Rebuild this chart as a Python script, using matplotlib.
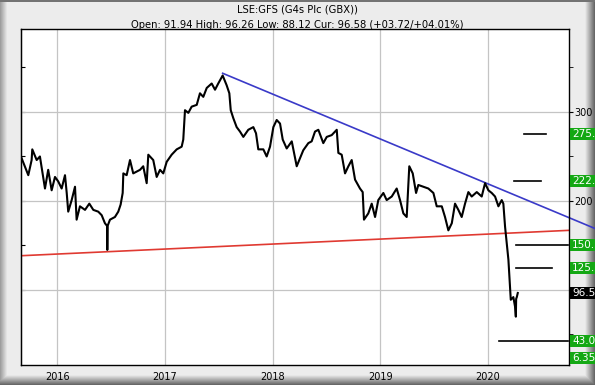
import numpy as np
import matplotlib
matplotlib.use("Agg")
import matplotlib.pyplot as plt
import matplotlib.transforms as mtransforms
from matplotlib.patches import Rectangle

# price trace (decimal year, pence)
years = [2015.667, 2015.729, 2015.760, 2015.766, 2015.807, 2015.837, 2015.862, 2015.884,
         2015.914, 2015.946, 2015.977, 2016.007, 2016.039, 2016.070, 2016.086, 2016.100,
         2016.132, 2016.163, 2016.178, 2016.209, 2016.256, 2016.296, 2016.333, 2016.379,
         2016.411, 2016.441, 2016.461, 2016.463, 2016.466, 2016.488, 2016.534, 2016.565,
         2016.587, 2016.606, 2016.612, 2016.643, 2016.674, 2016.704, 2016.736, 2016.767,
         2016.797, 2016.829, 2016.844, 2016.890, 2016.922, 2016.953, 2016.983, 2017.015,
         2017.061, 2017.108, 2017.154, 2017.169, 2017.185, 2017.216, 2017.247, 2017.294,
         2017.324, 2017.355, 2017.387, 2017.433, 2017.464, 2017.494, 2017.535, 2017.572,
         2017.597, 2017.610, 2017.634, 2017.665, 2017.696, 2017.727, 2017.773, 2017.820,
         2017.845, 2017.866, 2017.913, 2017.944, 2017.975, 2018.006, 2018.037, 2018.068,
         2018.093, 2018.130, 2018.177, 2018.223, 2018.240, 2018.284, 2018.331, 2018.362,
         2018.393, 2018.424, 2018.470, 2018.502, 2018.548, 2018.595, 2018.610, 2018.641,
         2018.672, 2018.703, 2018.734, 2018.765, 2018.811, 2018.836, 2018.848, 2018.888,
         2018.920, 2018.951, 2018.981, 2019.028, 2019.059, 2019.106, 2019.152, 2019.183,
         2019.214, 2019.245, 2019.269, 2019.301, 2019.332, 2019.353, 2019.400, 2019.446,
         2019.493, 2019.524, 2019.571, 2019.601, 2019.632, 2019.664, 2019.694, 2019.725,
         2019.756, 2019.787, 2019.818, 2019.849, 2019.896, 2019.942, 2019.973, 2020.004,
         2020.035, 2020.066, 2020.097, 2020.128, 2020.143, 2020.159, 2020.175, 2020.190,
         2020.205, 2020.212, 2020.236, 2020.252, 2020.259, 2020.262, 2020.268, 2020.277]
price = [248, 229, 246, 258, 246, 250, 231, 214,
         235, 212, 227, 222, 214, 229, 209, 188,
         201, 216, 179, 194, 190, 197, 190, 188,
         184, 175, 172, 145, 172, 179, 182, 188,
         196, 209, 231, 229, 246, 231, 233, 235,
         239, 220, 252, 246, 227, 235, 231, 244,
         252, 258, 261, 269, 302, 299, 306, 308,
         321, 317, 327, 332, 325, 332, 341, 330,
         321, 302, 293, 283, 278, 272, 280, 283,
         276, 258, 258, 250, 261, 283, 291, 287,
         269, 259, 267, 239, 244, 257, 265, 267,
         278, 280, 265, 272, 274, 280, 254, 252,
         231, 239, 246, 224, 214, 210, 179, 186,
         197, 182, 201, 209, 201, 205, 214, 201,
         186, 182, 239, 231, 209, 218, 216, 214,
         209, 194, 194, 182, 167, 175, 197, 190,
         182, 197, 210, 205, 210, 205, 220, 212,
         209, 205, 194, 201, 197, 171, 152, 134,
         104, 89, 92, 81, 70, 90, 92, 96.58]

# trend lines (start / end points)
support_x = [2015.664, 2020.753]
support_y = [138.5, 167.0]
resist_x = [2017.535, 2020.994]
resist_y = [343.5, 169.1]

# target levels and their horizontal extents
targets = [275.0, 222.5, 150.0, 125.0, 43.0]
target_x0 = [2020.335, 2020.242, 2020.260, 2020.260, 2020.102]
target_x1 = [2020.539, 2020.493, 2020.744, 2020.595, 2020.744]
# right-hand price flags (the chart crops them at the edge)
label_vals = [275.0, 222.5, 150.0, 125.0, 43.0, 6.35]
label_txt = ["275.", "222.", "150.", "125.", "43.0", "6.35"]
cur_val = 96.58
cur_txt = "96.5"

year_ticks = [2016, 2017, 2018, 2019, 2020]
ylo, yhi = 15.7, 392.9
xlo, xhi = 2015.664, 2020.753

W, H = 595, 385
fig = plt.figure(figsize=(W / 100, H / 100), dpi=100)

# bevelled grey frame
bg = fig.add_axes([0, 0, 1, 1])
img = np.full((H, W), 0.925)
xs = np.arange(W)
ys = np.arange(H)
img[:, :7] = np.minimum(img[:, :7], 0.62 + 0.045 * xs[:7])
img[:, W - 10:] = np.minimum(img[:, W - 10:], 0.9 - 0.055 * (xs[W - 10:] - (W - 10)))
img[H - 10:, :] = np.minimum(img[H - 10:, :], (0.9 - 0.055 * (ys[H - 10:] - (H - 10)))[:, None])
img[:2, :] = 0.45
bg.imshow(img, cmap="gray", vmin=0, vmax=1, aspect="auto", interpolation="nearest")
bg.axis("off")

ax = fig.add_axes([21.3 / W, 1 - 365 / H, (569 - 21.3) / W, (365 - 29.3) / H])
ax.set_facecolor("white")
ax.set_xlim(xlo, xhi)
ax.set_ylim(ylo, yhi)

ax.set_xticks(year_ticks)
ax.set_xticklabels([str(y) for y in year_ticks], fontsize=7)
ax.tick_params(axis="x", length=0, pad=5)
ax.set_yticks([100, 200, 300])
ax.set_yticklabels(["", "200", "300"])
ax.set_yticks([50, 150, 250, 350], minor=True)
ax.yaxis.tick_right()
ax.tick_params(axis="y", which="both", direction="out", length=3, labelsize=7, pad=1)
ax.grid(True, which="major", color="#c4c4c4", lw=0.9)
left = ax.secondary_yaxis("left")
left.set_yticks([100, 150, 200, 250, 300, 350])
left.tick_params(direction="in", length=3, labelleft=False)
for sp in ax.spines.values():
    sp.set_color("black")
    sp.set_linewidth(1.0)

ax.plot(years, price, color="black", lw=1.5, zorder=3)
ax.plot(support_x, support_y, color="#e03a32", lw=1.2, zorder=2)
ax.plot(resist_x, resist_y, color="#3a3ac8", lw=1.2, zorder=2, clip_on=False)
for v, a, b in zip(targets, target_x0, target_x1):
    ax.plot([a, b], [v, v], color="black", lw=1.2, zorder=2)

trans = mtransforms.blended_transform_factory(ax.transAxes, ax.transData)
box_h = 13.5
for v, t in zip(label_vals, label_txt):
    yv = max(v, ylo + 8)
    ax.add_patch(Rectangle((1.002, yv - box_h / 2), 0.06, box_h, transform=trans,
                           fc="#14a814", ec="none", clip_on=False, zorder=5))
    ax.text(1.006, yv, t, transform=trans, fontsize=7.5, color="white",
            va="center", ha="left", zorder=6)
ax.add_patch(Rectangle((1.002, cur_val - box_h / 2), 0.06, box_h, transform=trans,
                       fc="black", ec="none", clip_on=False, zorder=5))
ax.text(1.006, cur_val, cur_txt, transform=trans, fontsize=7.5, color="white",
        va="center", ha="left", zorder=6)

fig.text(0.5, 1 - 10 / H, "LSE:GFS (G4s Plc (GBX))", ha="center", va="center", fontsize=7.2)
fig.text(0.5, 1 - 24.5 / H,
         "Open: 91.94 High: 96.26 Low: 88.12 Cur: 96.58 (+03.72/+04.01%)",
         ha="center", va="center", fontsize=7.2)

fig.savefig("out.png", dpi=100)
